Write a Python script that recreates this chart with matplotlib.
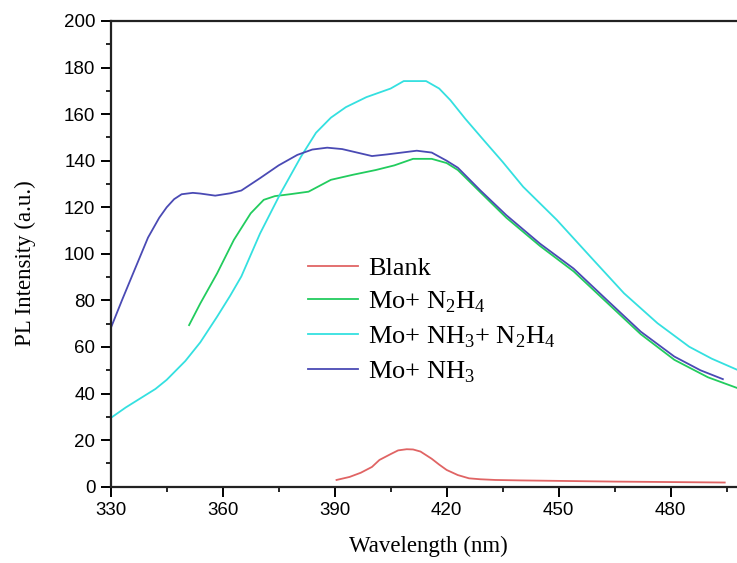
import matplotlib
matplotlib.use('Agg')
import matplotlib.pyplot as plt
from matplotlib.ticker import MultipleLocator

# Blank
blank_wl = [390.5, 394, 397, 400, 402, 405, 407, 409.3, 411, 413, 416, 418, 420, 423,
            426, 429, 433, 440, 450, 465, 480, 494.5]
blank_i = [2.9, 4.2, 6, 8.5, 11.5, 14, 15.6, 16.1, 16, 15.1, 12, 9.5, 7.2, 5,
           3.6, 3.2, 2.9, 2.7, 2.5, 2.2, 2, 1.8]

# Mo+ N2H4
n2h4_wl = [351, 354, 358.5, 363, 367.5, 371, 374, 378, 383, 389, 395, 401, 406, 411, 416,
           420, 423, 429, 436, 445, 454, 463, 472, 481, 490, 498]
n2h4_i = [69.4, 78.7, 91.6, 106, 117.4, 123.2, 124.8, 125.6, 126.7, 131.8, 134, 136, 138, 140.8, 140.8,
          139, 136, 126.5, 115.5, 103.4, 92.5, 79, 65.5, 54.5, 47, 42.3]

# Mo+ NH3+ N2H4
mix_wl = [330, 334, 338, 342, 345, 350, 354, 358.5, 362, 365, 370, 375.5, 381, 385, 389,
          393, 398.5, 405, 408.5, 414.5, 418, 421, 425, 430, 435, 440.5, 449.5, 458.5,
          467.5, 476.5, 485, 491, 498]
mix_i = [29.5, 34, 38, 42, 45.9, 54, 62, 73, 82, 90.3, 108.7, 126, 141.8, 152, 158.5,
         163, 167.3, 171, 174.2, 174.2, 171, 166, 158, 148.7, 139.5, 128.8, 114.6, 98.8,
         83.1, 70.2, 60.1, 55, 50.1]

# Mo+ NH3
nh3_wl = [330, 333, 336, 340, 343, 345, 347, 349, 352, 354, 358, 362, 365, 370, 375, 380, 384, 388, 392,
          396, 400, 404, 408, 412, 416, 420, 423, 429, 436, 445, 454, 463, 472, 481, 488, 494]
nh3_i = [68, 80, 91.6, 107, 115.5, 120, 123.5, 125.6, 126.2, 125.9, 125, 126, 127.2, 132.5, 138, 142.5,
         144.8, 145.6, 145, 143.5, 142, 142.7, 143.5, 144.3, 143.5, 140, 137, 127.3, 116.6, 104.4, 93.7,
         80.1, 66.6, 55.9, 50, 46.2]

serif = 'Liberation Serif'
sans = 'Liberation Sans'

fig = plt.figure(figsize=(7.37, 5.63), dpi=100)
ax = fig.add_axes([0.1502, 0.1355, 0.861, 0.8272])

lw = 1.3
ax.plot(blank_wl, blank_i, color='#e06464', lw=lw, label='Blank')
ax.plot(n2h4_wl, n2h4_i, color='#22cc5e', lw=lw, label=r'Mo+ N$_{\mathregular{2}}$H$_{\mathregular{4}}$')
ax.plot(mix_wl, mix_i, color='#34e0e0', lw=lw,
        label=r'Mo+ NH$_{\mathregular{3}}$+ N$_{\mathregular{2}}$H$_{\mathregular{4}}$')
ax.plot(nh3_wl, nh3_i, color='#4a4ab4', lw=lw, label=r'Mo+ NH$_{\mathregular{3}}$')

ax.set_xlim(330, 500)
ax.set_ylim(0, 200)
ax.xaxis.set_major_locator(MultipleLocator(30))
ax.xaxis.set_minor_locator(MultipleLocator(15))
ax.yaxis.set_major_locator(MultipleLocator(20))
ax.yaxis.set_minor_locator(MultipleLocator(10))
ax.tick_params(which='major', direction='out', length=7, width=1.4, labelsize=13.5, pad=4)
ax.tick_params(which='minor', direction='out', length=3.5, width=1.2)
for lab in ax.get_xticklabels() + ax.get_yticklabels():
    lab.set_fontfamily(sans)
for s in ax.spines.values():
    s.set_linewidth(1.6)
    s.set_color('#222222')

ax.set_xlabel('Wavelength (nm)', fontfamily=serif, fontsize=16.5, labelpad=12)
ax.set_ylabel('PL Intensity (a.u.)', fontfamily=serif, fontsize=16.5, labelpad=16)
ax.yaxis.set_label_coords(-0.118, 0.48)

leg = ax.legend(loc='upper left', bbox_to_anchor=(0.311, 0.494), frameon=False,
                prop={'family': serif, 'size': 19}, handlelength=1.9, handletextpad=0.38,
                labelspacing=0.36, borderpad=0, borderaxespad=0)

fig.savefig('out.png', dpi=100)
